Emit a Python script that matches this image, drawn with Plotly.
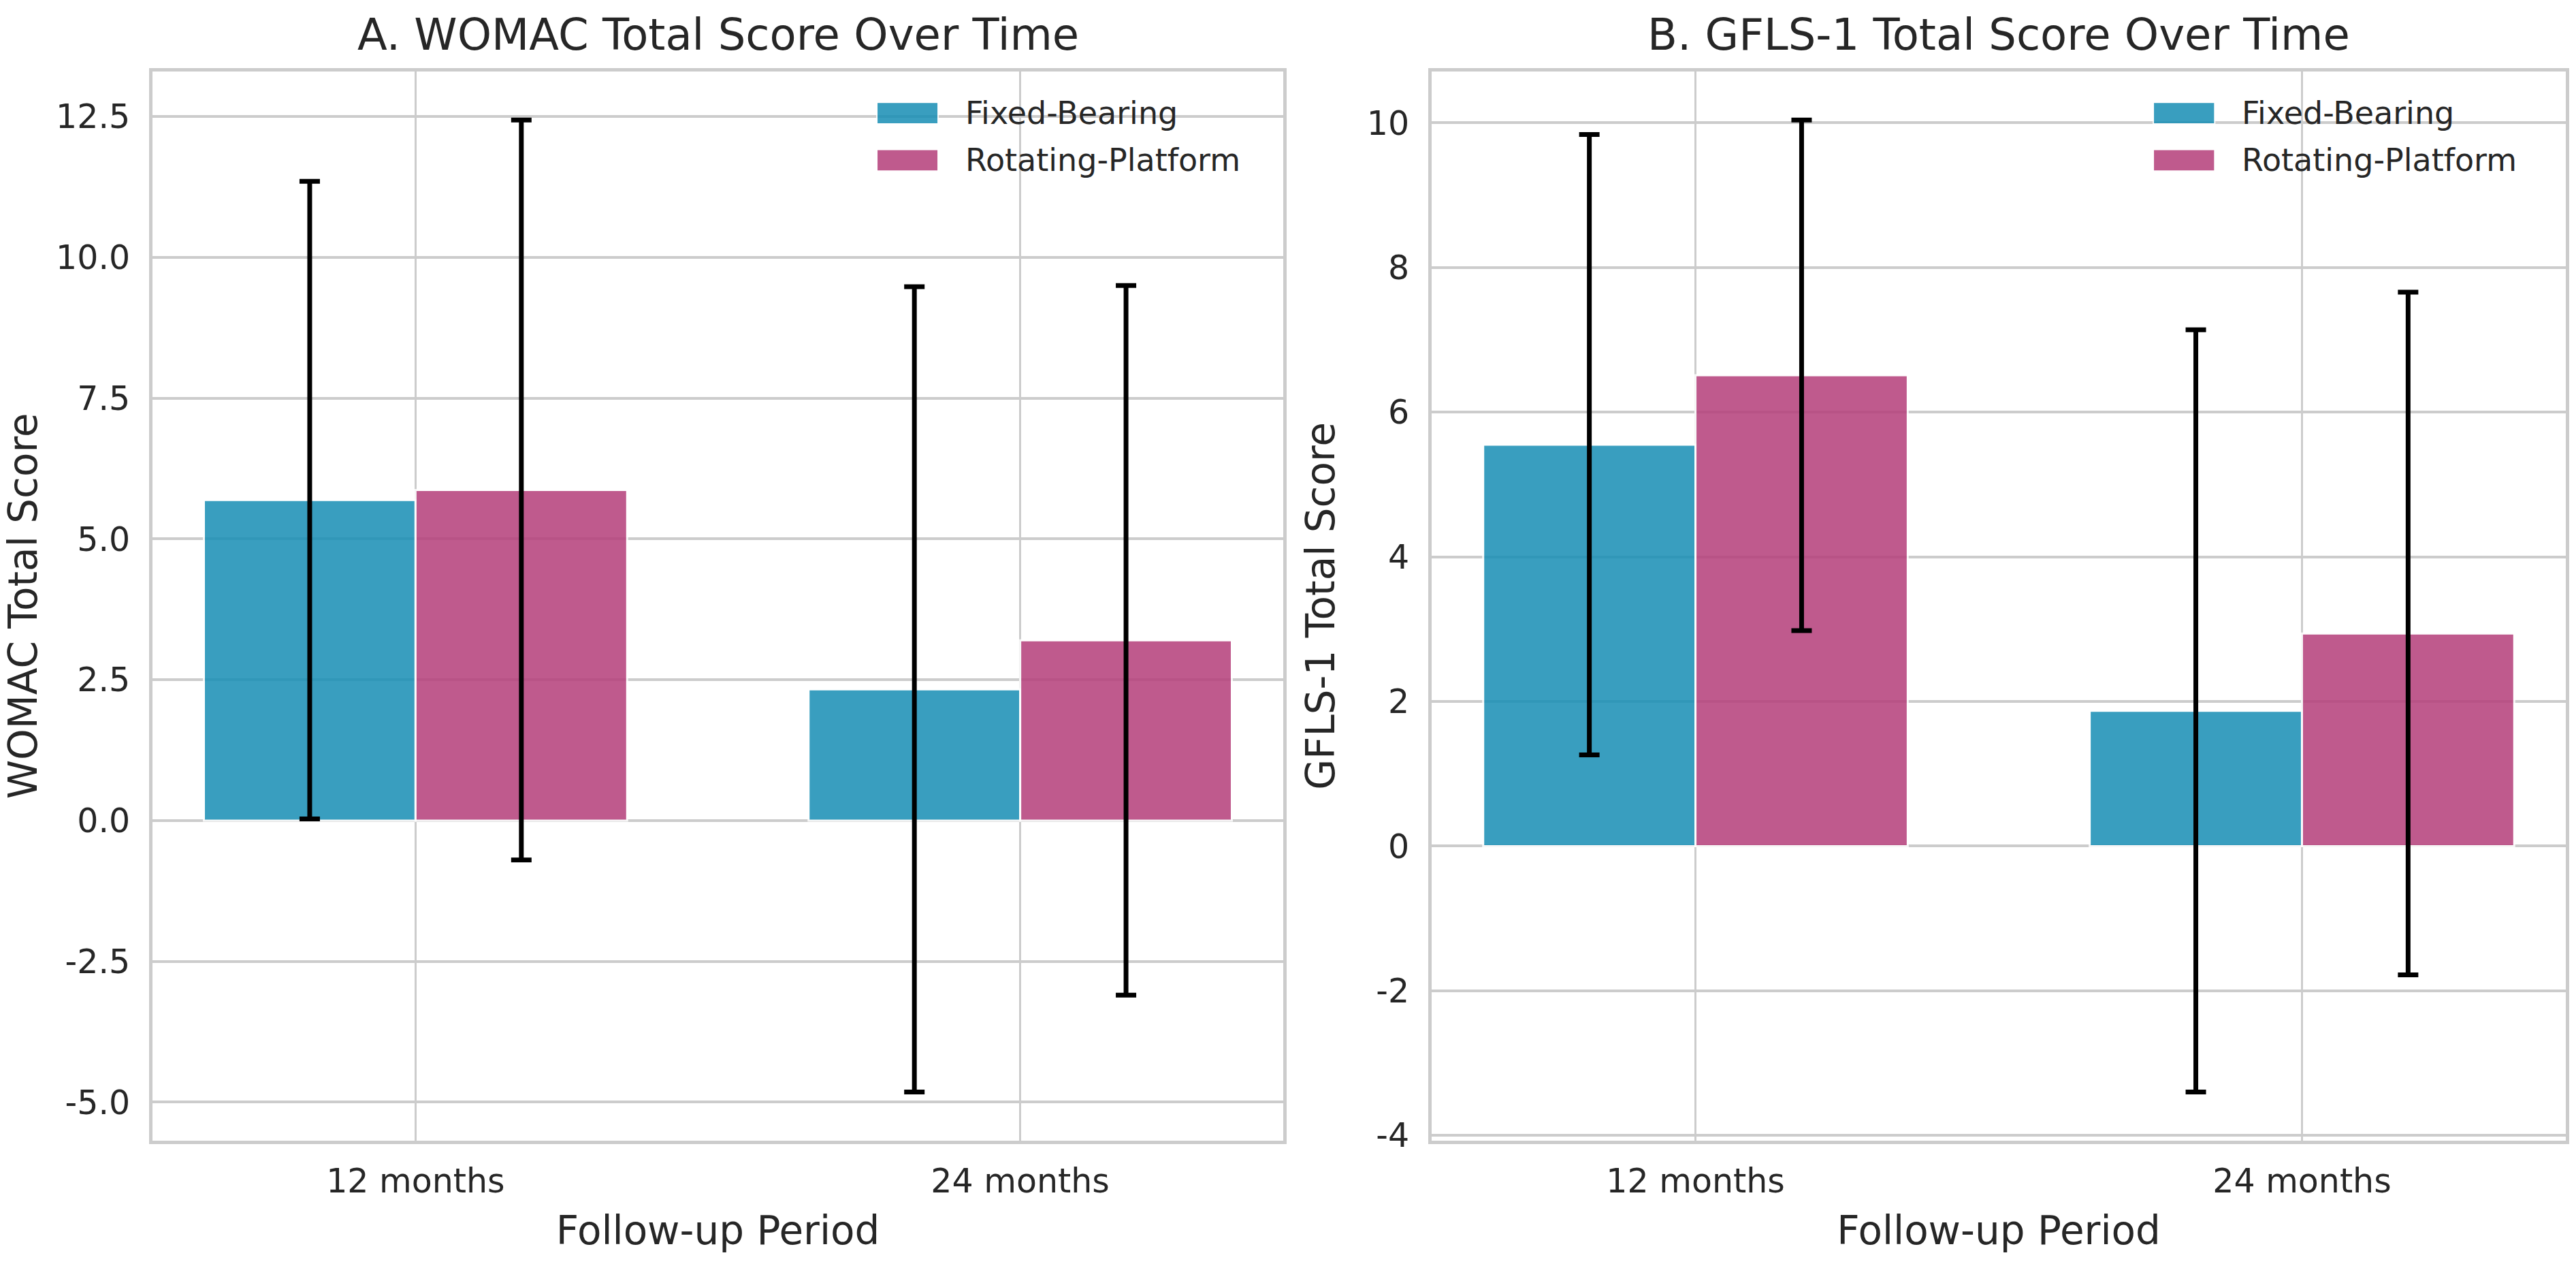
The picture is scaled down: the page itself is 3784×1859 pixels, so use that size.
import plotly.graph_objects as go

# ---------------- data ----------------
periods = ["12 months", "24 months"]
groups = ["Fixed-Bearing", "Rotating-Platform"]

womac_fixed_mean = [5.69, 2.33]
womac_fixed_sd = [5.66, 7.15]
womac_rot_mean = [5.87, 3.20]
womac_rot_sd = [6.57, 6.30]

gfls_fixed_mean = [5.55, 1.87]
gfls_fixed_sd = [4.29, 5.27]
gfls_rot_mean = [6.51, 2.94]
gfls_rot_sd = [3.53, 4.72]

womac_tickvals = [-5.0, -2.5, 0.0, 2.5, 5.0, 7.5, 10.0, 12.5]
womac_ticktext = ["-5.0", "-2.5", "0.0", "2.5", "5.0", "7.5", "10.0", "12.5"]
gfls_tickvals = [-4, -2, 0, 2, 4, 6, 8, 10]
gfls_ticktext = ["-4", "-2", "0", "2", "4", "6", "8", "10"]

# ---------------- style ----------------
W, H = 3784, 1859
FONT = "DejaVu Sans"
TXT = "#262626"
GRID = "#cccccc"
C_FIXED = "#178EB5"
C_ROT = "#B53E7A"
OPA = 0.85

x_pos = list(range(len(periods)))


def mpl_range(means_list, sds_list):
    lows = [m - s for ms, ss in zip(means_list, sds_list) for m, s in zip(ms, ss)]
    highs = [m + s for ms, ss in zip(means_list, sds_list) for m, s in zip(ms, ss)]
    lo, hi = min(lows + [0]), max(highs + [0])
    pad = 0.05 * (hi - lo)
    return [lo - pad, hi + pad]


fig = go.Figure()

panels = [
    ("x", "y", womac_fixed_mean, womac_fixed_sd, womac_rot_mean, womac_rot_sd),
    ("x2", "y2", gfls_fixed_mean, gfls_fixed_sd, gfls_rot_mean, gfls_rot_sd),
]
for xa, ya, fm, fs, rm, rs in panels:
    for name, m, s, c in [(groups[0], fm, fs, C_FIXED), (groups[1], rm, rs, C_ROT)]:
        fig.add_trace(go.Bar(
            x=x_pos, y=m, name=name, xaxis=xa, yaxis=ya,
            marker=dict(color=c, opacity=OPA, line=dict(color="white", width=3)),
            error_y=dict(type="data", array=s, visible=True, color="black",
                         thickness=7, width=15),
            showlegend=False,
        ))

x_range = [-0.435, 1.435]
dom_y = [1 - 1694 / H, 1 - 106 / H]
dom_x1 = [224 / W, 1885 / W]
dom_x2 = [2103 / W, 3769 / W]

common_x = dict(range=x_range, tickvals=x_pos, ticktext=periods, showgrid=True,
                gridcolor=GRID, gridwidth=3, showline=True, mirror=True,
                linecolor=GRID, linewidth=5, zeroline=False, ticks="",
                tickfont=dict(size=49, color=TXT, family=FONT),
                ticklabelstandoff=12)
common_y = dict(showgrid=True, gridcolor=GRID, gridwidth=4, showline=True, mirror=True,
                linecolor=GRID, linewidth=5, zeroline=False, ticks="",
                tickfont=dict(size=49, color=TXT, family=FONT),
                ticklabelstandoff=18)

fig.update_layout(
    width=W, height=H,
    margin=dict(l=0, r=0, t=0, b=0),
    paper_bgcolor="white", plot_bgcolor="white",
    barmode="group", bargap=0.3, bargroupgap=0,
    font=dict(family=FONT, color=TXT, size=49),
    showlegend=False,
    xaxis=dict(domain=dom_x1, anchor="y",
               title=dict(text="Follow-up Period", font=dict(size=58), standoff=26),
               **common_x),
    yaxis=dict(domain=dom_y, anchor="x", range=mpl_range([womac_fixed_mean, womac_rot_mean], [womac_fixed_sd, womac_rot_sd]),
               tickvals=womac_tickvals, ticktext=womac_ticktext,
               title=dict(text="WOMAC Total Score", font=dict(size=58), standoff=30),
               **common_y),
    xaxis2=dict(domain=dom_x2, anchor="y2",
                title=dict(text="Follow-up Period", font=dict(size=58), standoff=26),
                **common_x),
    yaxis2=dict(domain=dom_y, anchor="x2", range=mpl_range([gfls_fixed_mean, gfls_rot_mean], [gfls_fixed_sd, gfls_rot_sd]),
                tickvals=gfls_tickvals, ticktext=gfls_ticktext,
                title=dict(text="GFLS-1 Total Score", font=dict(size=58), standoff=30),
                **common_y),
)

# panel titles
titles = ["A. WOMAC Total Score Over Time", "B. GFLS-1 Total Score Over Time"]
for t, xr in zip(titles, ["x domain", "x2 domain"]):
    fig.add_annotation(text=t, xref=xr, x=0.5, yref="paper", y=1 - 52 / H,
                       xanchor="center", yanchor="middle", showarrow=False,
                       font=dict(size=64, color=TXT, family=FONT))

# legends (one per panel, upper right)
for xr, px0 in [("x domain", 0.6406), ("x2 domain", 0.6363)]:
    for i, (name, c) in enumerate([(groups[0], C_FIXED), (groups[1], C_ROT)]):
        yc = 1 - (168 + 70 * i) / H
        fig.add_shape(type="rect", xref=xr, yref="paper",
                      x0=px0, x1=px0 + 90 / 1661, y0=yc - 16 / H, y1=yc + 16 / H,
                      fillcolor=c, opacity=OPA, line=dict(color="white", width=2))
        fig.add_annotation(text=name, xref=xr, x=px0 + 128 / 1661, yref="paper", y=yc,
                           xanchor="left", yanchor="middle", showarrow=False,
                           font=dict(size=46, color=TXT, family=FONT))

fig.write_html("out.html",
               config={"displayModeBar": False},
               post_script="document.body.style.margin='0px';document.body.style.overflow='hidden';")
